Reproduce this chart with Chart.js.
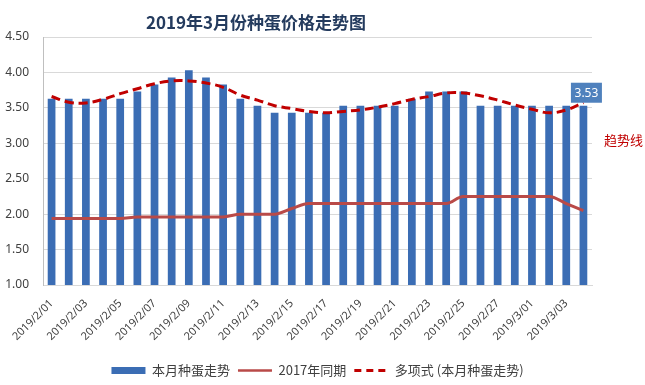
<!DOCTYPE html>
<html><head><meta charset="utf-8">
<script src="https://cdn.jsdelivr.net/npm/chart.js@4/dist/chart.umd.min.js"></script>
<style>
html,body{margin:0;padding:0;background:#fff;}
#wrap{position:relative;width:645px;height:385px;}
#title{position:absolute;left:256px;top:10px;transform:translateX(-50%);font:bold 17px "Noto Sans CJK SC";color:#243b5e;white-space:nowrap;line-height:24px;}
#trend{position:absolute;left:604px;top:131px;font:13px "Noto Sans CJK SC";color:#c00000;line-height:18px;}
</style></head><body>
<div id="wrap"><canvas id="c" width="645" height="385"></canvas><div id="title">2019年3月份种蛋价格走势图</div><div id="trend">趋势线</div></div>
<script>
const categories = ['2019/2/01','2019/2/02','2019/2/03','2019/2/04','2019/2/05','2019/2/06','2019/2/07','2019/2/08','2019/2/09','2019/2/10','2019/2/11','2019/2/12','2019/2/13','2019/2/14','2019/2/15','2019/2/16','2019/2/17','2019/2/18','2019/2/19','2019/2/20','2019/2/21','2019/2/22','2019/2/23','2019/2/24','2019/2/25','2019/2/26','2019/2/27','2019/2/28','2019/3/01','2019/3/02','2019/3/03','2019/3/04'];
const eggPrice2019 = [3.63,3.63,3.63,3.63,3.63,3.73,3.83,3.93,4.03,3.93,3.83,3.63,3.53,3.43,3.43,3.43,3.43,3.53,3.53,3.53,3.53,3.63,3.73,3.73,3.73,3.53,3.53,3.53,3.53,3.53,3.53,3.53];
const samePeriod2017 = [1.94,1.94,1.94,1.94,1.94,1.96,1.96,1.96,1.96,1.96,1.96,2.00,2.00,2.00,2.08,2.15,2.15,2.15,2.15,2.15,2.15,2.15,2.15,2.15,2.25,2.25,2.25,2.25,2.25,2.25,2.15,2.05];
const polyTrend = [3.66,3.58,3.57,3.62,3.70,3.77,3.84,3.88,3.88,3.85,3.79,3.68,3.61,3.53,3.49,3.45,3.43,3.45,3.47,3.51,3.56,3.62,3.66,3.71,3.71,3.67,3.61,3.54,3.48,3.43,3.47,3.575];
const seriesNames = ['本月种蛋走势','2017年同期','多项式 (本月种蛋走势)'];
const yMin = 1, yMax = 4.5, yStep = 0.5;

const BAR = '#3b6db4', LINE = '#b94a48', TREND = '#c00000';

const lastLabel = {
  id: 'lastLabel',
  afterDatasetsDraw(chart) {
    const meta = chart.getDatasetMeta(0);
    const i = meta.data.length - 1;
    const el = meta.data[i];
    const val = chart.data.datasets[0].data[i];
    const ctx = chart.ctx;
    const w = 31, h = 20;
    const x = el.x + 3, yb = el.y - 3;
    ctx.save();
    ctx.fillStyle = '#4f81bd';
    ctx.fillRect(x - w / 2, yb - h, w, h);
    ctx.fillStyle = '#ffffff';
    ctx.font = '12px "Noto Sans"';
    ctx.textAlign = 'center';
    ctx.textBaseline = 'middle';
    ctx.fillText(val.toFixed(2), x, yb - h / 2 + 1);
    ctx.restore();
  }
};

new Chart(document.getElementById('c'), {
  data: {
    labels: categories,
    datasets: [
      { type: 'bar', label: seriesNames[0], data: eggPrice2019, backgroundColor: BAR, categoryPercentage: 1, barPercentage: 0.45, order: 3 },
      { type: 'line', label: seriesNames[1], data: samePeriod2017, borderColor: LINE, borderWidth: 3, pointRadius: 0, cubicInterpolationMode: 'monotone', fill: false, order: 2 },
      { type: 'line', label: seriesNames[2], data: polyTrend, borderColor: TREND, borderWidth: 3, borderDash: [9, 5], pointRadius: 0, tension: 0.4, fill: false, order: 1 }
    ]
  },
  options: {
    responsive: false,
    animation: false,
    layout: { padding: { top: 37, right: 53, left: 0, bottom: -2 } },
    plugins: {
      title: { display: false },
      tooltip: { enabled: false },
      legend: {
        position: 'bottom',
        fullSize: false,
        labels: {
          usePointStyle: true,
          pointStyleWidth: 34,
          boxHeight: 7,
          padding: 8,
          color: '#404040',
          font: { family: '"Noto Sans CJK SC"', size: 13 },
          generateLabels() {
            return [
              { text: seriesNames[0], fillStyle: BAR, strokeStyle: BAR, lineWidth: 0, pointStyle: 'rect', datasetIndex: 0, fontColor: '#404040' },
              { text: seriesNames[1], fillStyle: LINE, strokeStyle: LINE, lineWidth: 2.5, pointStyle: 'line', datasetIndex: 1, fontColor: '#404040' },
              { text: seriesNames[2], fillStyle: TREND, strokeStyle: TREND, lineWidth: 3, lineDash: [7, 5], pointStyle: 'line', datasetIndex: 2, fontColor: '#404040' }
            ];
          }
        }
      }
    },
    scales: {
      x: {
        grid: { display: false },
        border: { display: true, color: '#d9d9d9' },
        ticks: {
          autoSkip: false, maxRotation: 45, minRotation: 45, padding: 4,
          color: '#404040', font: { family: '"Noto Sans"', size: 11 },
          callback: (v, i) => (i % 2 === 0 ? categories[i] : '')
        },
        afterFit: s => { s.height = 71; }
      },
      y: {
        min: yMin, max: yMax,
        grid: { color: '#d9d9d9', drawTicks: false },
        border: { display: true, color: '#bfbfbf' },
        ticks: { stepSize: yStep, padding: 14, color: '#404040', font: { family: '"Noto Sans"', size: 12 }, callback: v => v.toFixed(2) },
        afterFit: s => { s.width = 43; }
      }
    }
  },
  plugins: [lastLabel]
});
</script>
</body></html>
